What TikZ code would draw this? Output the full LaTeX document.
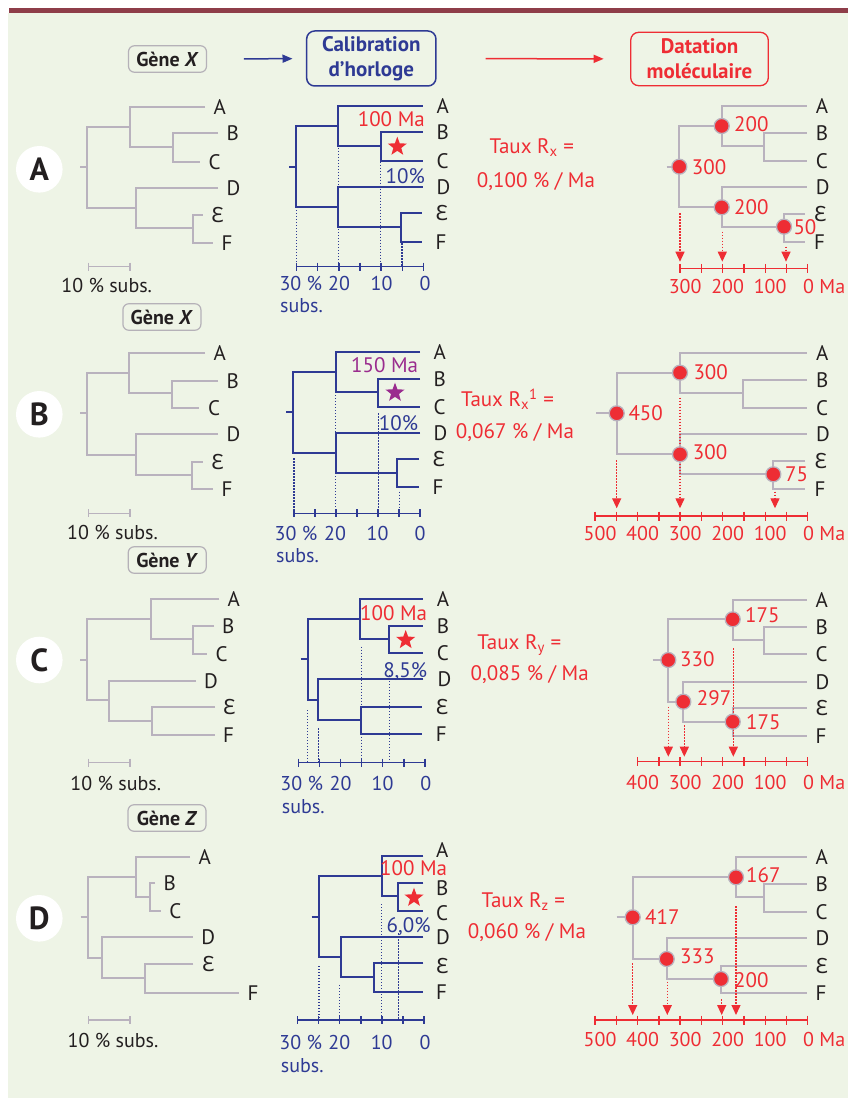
\documentclass[tikz,border=0pt]{standalone}
\usepackage{fontspec}
\setmainfont{PT Sans}
\newfontfamily\epsf{Noto Sans}
\usetikzlibrary{arrows.meta,shapes.geometric,calc}
\definecolor{bg}{HTML}{EEF4E6}
\definecolor{barred}{HTML}{8E3D49}
\definecolor{tgray}{HTML}{B9B2BE}
\definecolor{nblue}{HTML}{2E3A94}
\definecolor{rred}{HTML}{EE2D34}
\definecolor{purp}{HTML}{9A2C8E}
\definecolor{ink}{HTML}{231F20}
\definecolor{boxgray}{HTML}{B5B1B8}
\newcommand\fs[1]{\fontsize{#1}{#1}\selectfont}
\newcommand\tcin[7]{\coordinate (#1s) at (#2); \coordinate (#1r) at (#3); \coordinate (#1u) at (#4);
  \coordinate (#1l) at (#5); \coordinate (#1bc) at (#6); \coordinate (#1ef) at (#7);}
\newcommand\tclv[7]{\coordinate (#1A) at (#2); \coordinate (#1B) at (#3); \coordinate (#1C) at (#4);
  \coordinate (#1D) at (#5); \coordinate (#1E) at (#6); \coordinate (#1F) at (#7);}
\newcommand\drawtree[2]{%
  \draw[#2] (#1s) -- (#1r);
  \draw[#2] (#1u) -| (#1r) |- (#1l);
  \draw[#2] (#1A) -| (#1u) |- (#1bc);
  \draw[#2] (#1B) -| (#1bc) |- (#1C);
  \draw[#2] (#1D) -| (#1l) |- (#1ef);
  \draw[#2] (#1E) -| (#1ef) |- (#1F);}
\newcommand\labshift[2]{%
  \foreach \L/\T in {A/A,B/B,C/C,D/D,E/{\epsf Ɛ},F/F}{\node[lbl] (#1t\L) at ([xshift=#2]#1\L) {\T};}}
\newcommand\calaxis[4]{% prefix, x30, x0, y
  \draw[nblue, line width=1.5pt] (#2,#4) -- (#3,#4);
  \foreach \i in {0,...,6}{\draw[nblue,line width=1.3pt] ({#2+\i*(#3-#2)/6},#4-4) -- ++(0,8);}}
\newcommand\dataxis[4]{% prefix, tmax, y, label y
  \draw[rred, line width=1.5pt] ({807.7-0.4253*#2},#3) -- (807.7,#3);
  \foreach \t in {0,50,...,#2}{\draw[rred, line width=1.3pt] ({807.7-0.4253*\t},#3-4.5) -- ++(0,9);}
  \foreach \t in {100,200,...,#2}{\node[tick, text=rred] (#1n\t) at ({807.7-0.4253*\t+5},#4) {\t};}
  \node[tick, text=rred, anchor=west] (#1n0) at (803,#4) {0 Ma};}
\newcommand\scalebar[3]{% y, text x, text y
  \draw[tgray, line width=1.5pt] (88.3,#1) -- (130,#1);
  \draw[tgray, line width=1.3pt] (88.3,#1-4) -- ++(0,8) (130,#1-4) -- ++(0,8);
  \node[tick, text=ink] at (#2,#3) {10 \% subs.};}
\tikzset{
  gtree/.style={draw=tgray, line width=1.9pt},
  btree/.style={draw=nblue, line width=1.8pt},
  lbl/.style={font=\fs{21}, text=ink, inner sep=0pt, anchor=west, text height=15pt, text depth=0pt},
  num/.style={font=\fs{21}, text=rred, inner sep=0pt, anchor=west, text height=15pt, text depth=0pt},
  tick/.style={font=\fs{20}, inner sep=0pt, anchor=center, text height=14pt, text depth=0pt},
  taux/.style={font=\fs{21}, text=rred, inner sep=0pt, text height=15pt, text depth=0pt},
  dot/.style={circle, fill=rred, draw=tgray, line width=1.3pt, minimum size=15pt, inner sep=0pt},
  bdots/.style={draw=nblue, line width=1.1pt, dash pattern=on 1.3pt off 1.7pt},
  rarr/.style={draw=rred, line width=1.3pt, dash pattern=on 1.6pt off 1.4pt, -{Triangle[width=9pt,length=10pt]}},
  star5/.style={star, star points=5, star point ratio=2.4, minimum size=20pt, inner sep=0pt, fill=rred},
  genebox/.style={draw=boxgray, line width=1.2pt, rounded corners=6pt, minimum width=78pt, minimum height=26.5pt, inner sep=0pt, font=\bfseries\fs{20}, text=ink},
  letcirc/.style={circle, fill=white, minimum size=46.6pt, inner sep=0pt, font=\bfseries\fs{32}, text=ink},
}
\begin{document}
\begin{tikzpicture}[x=1pt,y=-1pt]
\useasboundingbox (0,0) rectangle (848,1110);
\fill[white] (0,0) rectangle (848,1110);
\fill[bg] (8,13.3) rectangle (848,1098);
\fill[barred] (9.3,8.3) rectangle (848,13.3);
% header
\node[genebox] (g0) at (167.5,59) {Gène \textit{X}};
\node[draw=nblue, line width=1.5pt, rounded corners=8pt, minimum width=129.3pt, minimum height=55pt, align=center, font=\bfseries\fontsize{21}{25}\selectfont, text=nblue, inner sep=0pt] (calib) at (371.3,58.5) {Calibration\\d'horloge};
\node[draw=rred, line width=1.3pt, rounded corners=8pt, minimum width=137.6pt, minimum height=53.4pt, align=center, font=\bfseries\fontsize{21}{25}\selectfont, text=rred, inner sep=0pt] (dat) at (699.5,59) {Datation\\moléculaire};
\draw[nblue, line width=1.5pt, -{Triangle[width=8pt,length=10pt]}, shorten <=36.8pt, shorten >=13.4pt] (g0) -- (calib);
\draw[rred, line width=1.5pt, -{Triangle[width=8pt,length=10pt]}, shorten <=49pt, shorten >=26.4pt] (calib) -- (dat);
% gene boxes and letters
\node[genebox] (g1) at (161.9,317) {Gène \textit{X}};
\node[genebox] (g2) at (167.2,560) {Gène \textit{Y}};
\node[genebox] (g3) at (167,818) {Gène \textit{Z}};
\node[letcirc] (pA) at (39.3,169.3) {A};
\node[letcirc] (pB) at (39.3,414.3) {B};
\node[letcirc] (pC) at (39.3,660) {C};
\node[letcirc] (pD) at (39.3,918.3) {D};

% ===== Panel A =====
\tcin{la}{80,166.7}{87,166.7}{130,126.7}{136,207.7}{172.7,146.7}{192.7,227.7}
\tclv{la}{205,106.7}{218,133.3}{200,161.7}{218,187.7}{202.7,215}{213,242.7}
\drawtree{la}{gtree}
\labshift{la}{8.5pt}
\scalebar{266.7}{106.7}{285.5}

\tcin{ca}{289.3,166.7}{296,166.7}{338.3,126}{338.3,207.3}{380.7,145.7}{401,226.7}
\tclv{ca}{422.7,105.7}{422.7,132.3}{422.7,160.7}{422.7,186.7}{421.7,213.3}{421.7,241.7}
\drawtree{ca}{btree}
\labshift{ca}{13.8pt}
\calaxis{ca}{296.7}{423.3}{266.7}
\draw[bdots] (296.7,210) -- (296.7,266.7);
\draw[bdots] (338.3,148) -- (338.3,266.7);
\draw[bdots] (380.7,161.7) -- (380.7,266.7);
\draw[bdots] (402,243.3) -- (402,266.7);
\node[star5] (caS) at (397.3,146.7) {};
\node[num, anchor=east] (caM) at (425,119.3) {100 Ma};
\node[num, anchor=east, text=nblue] (caP) at (425,175.7) {10\%};
\node[tick, text=nblue] (ca30) at (300.8,283) {30 \%};
\node[tick, text=nblue] (ca20) at (339,283) {20};
\node[tick, text=nblue] (ca10) at (381.5,283) {10};
\node[tick, text=nblue] (ca00) at (425,283) {0};
\node[tick, text=nblue, anchor=west] (caSub) at (280,305.5) {subs.};

\tcin{da}{666.7,166.7}{679.3,166.7}{721.7,126}{721.7,207.3}{764,146}{784,226.7}
\tclv{da}{806.7,105.7}{806.7,132.7}{806.7,160.7}{806.7,186.7}{805,214}{805,241.7}
\drawtree{da}{gtree}
\labshift{da}{9pt}
\coordinate (daa1) at (680,213.3); \coordinate (dab1) at (680,261.7);
\coordinate (daa2) at (722.3,231.7); \coordinate (dab2) at (722.3,261.7);
\coordinate (daa3) at (786,246.7); \coordinate (dab3) at (786,261.7);
\draw[rarr] (daa1) -- (dab1);
\draw[rarr] (daa2) -- (dab2);
\draw[rarr] (daa3) -- (dab3);
\node[dot] (dar0) at (dar) {};
\node[dot] (dau0) at (dau) {};
\node[dot] (dal0) at (dal) {};
\node[dot] (daef0) at (daef) {};
\node[num] (dan1) at (691.7,167) {300};
\node[num] (dan2) at (734,124) {200};
\node[num] (dan3) at (734,207) {200};
\node[num] (dan4) at (793.3,226.7) {50};
\dataxis{da}{300}{268.3}{286.7}
\node[taux] (taA1) at (531.8,146) {Taux R\textsubscript{x} =};
\node[taux] (taA2) at (536,180) {0,100 \% / Ma};

% ===== Panel B =====
\tcin{lb}{80,413.3}{86.7,413.3}{129.3,373.3}{135.7,455}{171.7,393.3}{192.3,475}
\tclv{lb}{205,353.3}{218,380.7}{199.3,408.3}{218,434.3}{202.7,461.7}{213,489.3}
\drawtree{lb}{gtree}
\labshift{lb}{8.5pt}
\scalebar{513.3}{112.5}{532.7}

\tcin{cb}{286,411.7}{293.3,411.7}{335.7,371.7}{335.7,452.7}{378.3,391.7}{397.3,472.7}
\tclv{cb}{420,351.7}{420,379}{420,406.7}{420,432.7}{419,459}{419,487.3}
\drawtree{cb}{btree}
\labshift{cb}{13.3pt}
\calaxis{cb}{294}{420}{513.3}
\draw[bdots] (294,458.3) -- (294,513.3);
\draw[bdots] (335.7,395) -- (335.7,513.3);
\draw[bdots] (378.3,413.3) -- (378.3,513.3);
\draw[bdots] (399.3,491.7) -- (399.3,513.3);
\node[star5, fill=purp] (cbS) at (395,392.7) {};
\node[num, anchor=east, text=purp] (cbM) at (418.3,365) {150 Ma};
\node[num, anchor=east, text=nblue] (cbP) at (418.3,423.3) {10\%};
\node[tick, text=nblue] (cb30) at (296,533.3) {30 \%};
\node[tick, text=nblue] (cb20) at (335,533.3) {20};
\node[tick, text=nblue] (cb10) at (377.5,533.3) {10};
\node[tick, text=nblue] (cb00) at (420,533.3) {0};
\node[tick, text=nblue, anchor=west] (cbSub) at (276,555) {subs.};

\tcin{db}{596,413.3}{616.7,413.3}{680,372.7}{680,454.3}{743.3,392.7}{773.3,474.3}
\tclv{db}{806.7,352.7}{806.7,380}{806.7,407.7}{806.7,434.3}{805,460.7}{805,489}
\drawtree{db}{gtree}
\labshift{db}{9.3pt}
\coordinate (dba1) at (616.7,460); \coordinate (dbb1) at (616.7,508.3);
\coordinate (dba2) at (680,397.7); \coordinate (dbb2) at (680,508.3);
\coordinate (dba3) at (775,491.7); \coordinate (dbb3) at (775,508.3);
\draw[rarr] (dba1) -- (dbb1);
\draw[rarr] (dba2) -- (dbb2);
\draw[rarr] (dba3) -- (dbb3);
\node[dot] (dbr0) at (dbr) {};
\node[dot] (dbu0) at (dbu) {};
\node[dot] (dbl0) at (dbl) {};
\node[dot] (dbef0) at (dbef) {};
\node[num] (dbn1) at (628.3,412.5) {450};
\node[num] (dbn2) at (693.3,371.7) {300};
\node[num] (dbn3) at (692.7,452) {300};
\node[num] (dbn4) at (785,474) {75};
\dataxis{db}{500}{516}{533.3}
\node[taux] (taB1) at (507.5,399.3) {Taux R\textsubscript{x}\textsuperscript{1} =};
\node[taux] (taB2) at (515,431) {0,067 \% / Ma};

% ===== Panel C =====
\tcin{lc}{80,660}{86.7,660}{151,619.3}{109.3,700}{192.7,639.3}{151.7,721}
\tclv{lc}{219.3,599.3}{214,626}{207.3,654.3}{196,680.7}{215,707.3}{215,735}
\drawtree{lc}{gtree}
\labshift{lc}{8pt}
\scalebar{762.7}{115.8}{783.3}

\tcin{cc}{300.7,659}{307.7,659}{360,619}{318.3,700}{389.3,639}{361,720}
\tclv{cc}{422.7,599}{422.7,625.7}{422.7,653.3}{423.3,679.3}{421.7,706.7}{421.7,734.3}
\drawtree{cc}{btree}
\labshift{cc}{14pt}
\calaxis{cc}{298.3}{425}{762.7}
\draw[bdots] (307.7,710) -- (307.7,762.7);
\draw[bdots] (318.7,728.3) -- (318.7,762.7);
\draw[bdots] (361.3,646.7) -- (361.3,762.7);
\draw[bdots] (389.2,675) -- (389.2,762.7);
\node[star5] (ccS) at (405.7,640) {};
\node[num, anchor=east] (ccM) at (427.3,612.7) {100 Ma};
\node[num, anchor=east, text=nblue] (ccP) at (427.3,670) {8,5\%};
\node[tick, text=nblue] (cc30) at (301.7,783.3) {30 \%};
\node[tick, text=nblue] (cc20) at (340.5,783.3) {20};
\node[tick, text=nblue] (cc10) at (382.5,783.3) {10};
\node[tick, text=nblue] (cc00) at (425.7,783.3) {0};
\node[tick, text=nblue, anchor=west] (ccSub) at (281.7,806.7) {subs.};

\tcin{dc}{652.7,660}{668.3,660}{732.7,619.3}{683.3,701.7}{764,640}{732.7,721.7}
\tclv{dc}{806.7,600}{806.7,626.7}{806.7,654.3}{806.7,681.7}{806.7,707.7}{806.7,735.7}
\drawtree{dc}{gtree}
\labshift{dc}{8.8pt}
\coordinate (dca1) at (668.3,706.7); \coordinate (dcb1) at (668.3,756.7);
\coordinate (dca2) at (684.3,725); \coordinate (dcb2) at (684.3,756.7);
\coordinate (dca3) at (733.3,648.3); \coordinate (dcb3) at (733.3,756.7);
\draw[rarr] (dca1) -- (dcb1);
\draw[rarr] (dca2) -- (dcb2);
\draw[rarr] (dca3) -- (dcb3);
\node[dot] (dcr0) at (dcr) {};
\node[dot] (dcu0) at (dcu) {};
\node[dot] (dcl0) at (dcl) {};
\node[dot] (dcef0) at (dcef) {};
\node[num] (dcn1) at (680,659.3) {330};
\node[num] (dcn2) at (745,615) {175};
\node[num] (dcn3) at (696.7,698.3) {297};
\node[num] (dcn4) at (746,721.7) {175};
\dataxis{dc}{400}{761.7}{782.7}
\node[taux] (taC1) at (519.3,641.7) {Taux R\textsubscript{y} =};
\node[taux] (taC2) at (529.7,672.7) {0,085 \% / Ma};

% ===== Panel D =====
\tcin{ld}{80.7,917.3}{88.3,917.3}{135.7,876.7}{101.7,958.3}{150,896.7}{145,978.3}
\tclv{ld}{190,856.7}{155,883.3}{160.7,911}{192.7,937.3}{193.3,964.3}{239,992.7}
\drawtree{ld}{gtree}
\labshift{ld}{8.5pt}
\scalebar{1020}{113}{1040}

\tcin{cd}{311.7,916.7}{319.3,916.7}{381.7,876}{340.7,956.7}{397.7,896}{374,976.7}
\tclv{cd}{423.3,855.7}{423.3,882.7}{423.3,911}{423.3,936.7}{423.3,963.3}{423.3,991.7}
\drawtree{cd}{btree}
\foreach \L/\T/\Y in {A/A/849.5,B/B/887.5,C/C/913.3,D/D/937.3,E/{\epsf Ɛ}/966,F/F/991.7}{\node[lbl] (cdt\L) at (436,\Y) {\T};}
\calaxis{cd}{297.7}{424}{1020}
\draw[bdots] (319,966) -- (319,1020);
\draw[bdots] (339.3,985) -- (339.3,1020);
\draw[bdots] (381.7,904) -- (381.7,1020);
\draw[bdots] (398.3,933.3) -- (398.3,1020);
\node[star5] (cdS) at (414,897.7) {};
\node[num, anchor=east] (cdM) at (447.3,868.3) {100 Ma};
\node[num, anchor=east, text=nblue] (cdP) at (430.7,925) {6,0\%};
\node[tick, text=nblue] (cd30) at (300.7,1042.3) {30 \%};
\node[tick, text=nblue] (cd20) at (339.3,1042.3) {20};
\node[tick, text=nblue] (cd10) at (381.7,1042.3) {10};
\node[tick, text=nblue] (cd00) at (425,1042.3) {0};
\node[tick, text=nblue, anchor=west] (cdSub) at (280.7,1065.7) {subs.};

\tcin{dd}{616.7,917.3}{632.7,917.3}{736,877.3}{666.7,959}{764,897.3}{721,979}
\tclv{dd}{806.7,857.3}{806.7,884.3}{806.7,912.3}{806.7,938.3}{806.7,965.7}{806.7,993.3}
\drawtree{dd}{gtree}
\labshift{dd}{8.8pt}
\coordinate (dda1) at (632.7,963.3); \coordinate (ddb1) at (632.7,1015);
\coordinate (dda2) at (667.3,981.7); \coordinate (ddb2) at (667.3,1015);
\coordinate (dda3) at (721.7,999.3); \coordinate (ddb3) at (721.7,1015);
\coordinate (dda4) at (736,906); \coordinate (ddb4) at (736,1015);
\draw[rarr] (dda1) -- (ddb1);
\draw[rarr] (dda2) -- (ddb2);
\draw[rarr] (dda3) -- (ddb3);
\draw[rarr] (dda4) -- (ddb4);
\node[dot] (ddr0) at (ddr) {};
\node[dot] (ddu0) at (ddu) {};
\node[dot] (ddl0) at (ddl) {};
\node[dot] (ddef0) at (ddef) {};
\node[num] (ddn1) at (645,916.7) {417};
\node[num] (ddn2) at (746,875) {167};
\node[num] (ddn3) at (680,956) {333};
\node[num] (ddn4) at (734,980) {200};
\dataxis{dd}{500}{1020}{1039.3}
\node[taux] (taD1) at (523.3,900) {Taux R\textsubscript{z} =};
\node[taux] (taD2) at (527,930.7) {0,060 \% / Ma};
\end{tikzpicture}
\end{document}
